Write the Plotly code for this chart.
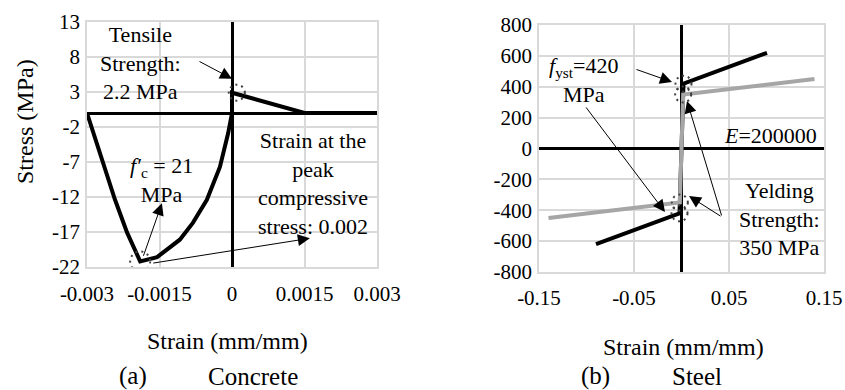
import plotly.graph_objects as go

# ---------------- data ----------------
# Concrete stress-strain (strain mm/mm, stress MPa)
conc_strain = [-0.003, -0.00242, -0.00217, -0.0019, -0.00155, -0.00108, -0.00081,
               -0.00052, -0.00025, -0.00008, 0.0, 0.0, 0.0015, 0.003]
conc_stress = [0.0, -12.4, -17.1, -21.2, -20.6, -18.1, -15.7,
               -12.4, -7.7, -2.9, 0.0, 2.9, 0.0, 0.0]
conc_peak = (-0.0019, -21.2)
conc_tens = (0.0001, 2.9)

# Steel stress-strain
steel_fy420_strain = [-0.09, -0.0021, 0.0021, 0.09]
steel_fy420_stress = [-620, -420, 420, 620]
steel_fy350_strain = [-0.14, -0.00175, 0.00175, 0.14]
steel_fy350_stress = [-450, -350, 350, 450]

conc_xticks = [-0.003, -0.0015, 0, 0.0015, 0.003]
conc_xtext = ["-0.003", "-0.0015", "0", "0.0015", "0.003"]
conc_yticks = [13, 8, 3, -2, -7, -12, -17, -22]
conc_ytext = ["13", "8", "3", "-2", "-7", "-12", "-17", "-22"]
steel_xticks = [-0.15, -0.05, 0.05, 0.15]
steel_xtext = ["-0.15", "-0.05", "0.05", "0.15"]
steel_yticks = [800, 600, 400, 200, 0, -200, -400, -600, -800]
steel_ytext = ["800", "600", "400", "200", "0", "-200", "-400", "-600", "-800"]

# ---------------- layout ----------------
W, H = 845, 390
FONT = "Liberation Serif, Times New Roman, serif"
FS = 21      # tick labels
FA = 22      # annotations
FT = 24      # axis titles
FC = 25      # captions
GRID = "#d9d9d9"


def px(x, y):
    return x / W, 1 - y / H


fig = go.Figure()
fig.add_trace(go.Scatter(x=conc_strain, y=conc_stress, mode="lines",
                         line=dict(color="black", width=4), xaxis="x", yaxis="y",
                         showlegend=False, hoverinfo="skip"))
fig.add_trace(go.Scatter(x=steel_fy420_strain, y=steel_fy420_stress, mode="lines",
                         line=dict(color="black", width=4), xaxis="x2", yaxis="y2",
                         showlegend=False, hoverinfo="skip"))
fig.add_trace(go.Scatter(x=steel_fy350_strain, y=steel_fy350_stress, mode="lines",
                         line=dict(color="#a6a6a6", width=4), xaxis="x2", yaxis="y2",
                         showlegend=False, hoverinfo="skip"))

axis_common = dict(showgrid=True, gridcolor=GRID, gridwidth=1.5,
                   showline=True, linecolor=GRID, linewidth=1.5, mirror=True,
                   zeroline=True, zerolinecolor="black", zerolinewidth=2.5,
                   ticks="outside", tickcolor="rgba(0,0,0,0)", automargin=False,
                   tickfont=dict(family=FONT, size=FS, color="black"),
                   fixedrange=True)

fig.update_layout(
    width=W, height=H, margin=dict(l=0, r=0, t=0, b=0, autoexpand=False),
    paper_bgcolor="white", plot_bgcolor="white",
    font=dict(family=FONT, size=FS, color="black"),
    xaxis=dict(domain=[87 / W, 377 / W], range=[-0.003, 0.003], anchor="y",
               tickmode="array", tickvals=conc_xticks, ticktext=conc_xtext,
               ticklen=7, **axis_common),
    yaxis=dict(domain=[1 - 267 / H, 1 - 22 / H], range=[-22, 13], anchor="x",
               tickmode="array", tickvals=conc_yticks, ticktext=conc_ytext,
               ticklen=1, **axis_common),
    xaxis2=dict(domain=[539 / W, 824 / W], range=[-0.15, 0.15], anchor="y2",
                tickmode="array", tickvals=steel_xticks, ticktext=steel_xtext,
                ticklen=6, **axis_common),
    yaxis2=dict(domain=[1 - 272 / H, 1 - 25 / H], range=[-800, 800], anchor="x2",
                tickmode="array", tickvals=steel_yticks, ticktext=steel_ytext,
                ticklen=1, **axis_common),
)

annots = []


def text(x, y, s, size=FA, angle=0):
    X, Y = px(x, y)
    annots.append(dict(x=X, y=Y, xref="paper", yref="paper", text=s, showarrow=False,
                       xanchor="center", yanchor="middle", textangle=angle,
                       font=dict(family=FONT, size=size, color="black")))


def arrow(xr, yr, x, y, ax, ay):
    annots.append(dict(x=x, y=y, xref=xr, yref=yr, ax=ax, ay=ay, axref="pixel",
                       ayref="pixel", text="", showarrow=True, arrowhead=2,
                       arrowsize=2.4, arrowwidth=1, arrowcolor="black"))


# concrete texts
text(140, 63, "Tensile<br>Strength:<br>2.2 MPa")
text(161, 180, "<i>f′</i><sub>c</sub> = 21<br>MPa")
text(313, 183, "Strain at the<br>peak<br>compressive<br>stress: 0.002")
text(25, 122, "Stress (MPa)", size=FT, angle=-90)
text(227, 341, "Strain (mm/mm)", size=FT)
text(133, 376, "(a)", size=FC)
text(253, 376, "Concrete", size=FC)
# steel texts
text(584, 80, "<i>f</i><sub>yst</sub>=420<br>MPa")
text(770, 135, "<i>E</i>=200000")
text(779, 219, "Yelding<br>Strength:<br>350 MPa")
text(683, 347, "Strain (mm/mm)", size=FT)
text(595, 376, "(b)", size=FC)
text(697, 376, "Steel", size=FC)

# arrows
arrow("x", "y", 0.0, 4.9, -34, -18)
arrow("x", "y", -0.00145, -12.9, -19, 54)
arrow("x", "y", 0.00161, -17.9, -158, 25)
arrow("x2", "y2", -0.0100, 431, -37, -13)
arrow("x2", "y2", -0.0174, -411, -80, -106)
arrow("x2", "y2", 0.0058, 308, 35, 116)
arrow("x2", "y2", 0.0079, -308, 33, 21)

fig.update_layout(annotations=annots)

# dotted circles around key points
shapes = []


def dcirc(xr, yr, cx, cy, r):
    shapes.append(dict(type="circle", xref=xr, yref=yr, xsizemode="pixel",
                       ysizemode="pixel", xanchor=cx, yanchor=cy,
                       x0=-r, x1=r, y0=-r, y1=r,
                       line=dict(color="#404040", width=2, dash="2px,4px")))


dcirc("x", "y", conc_peak[0], conc_peak[1], 10)
dcirc("x", "y", conc_tens[0], conc_tens[1], 8)
dcirc("x2", "y2", steel_fy420_strain[2], steel_fy420_stress[2], 8)
dcirc("x2", "y2", steel_fy350_strain[2], steel_fy350_stress[2], 8)
dcirc("x2", "y2", steel_fy420_strain[1], steel_fy420_stress[1], 8)
dcirc("x2", "y2", steel_fy350_strain[1], steel_fy350_stress[1], 8)
fig.update_layout(shapes=shapes)

fig.write_html("out.html", config={"displayModeBar": False},
               post_script="document.body.style.margin='0px';"
                           "document.body.style.overflow='hidden';")
